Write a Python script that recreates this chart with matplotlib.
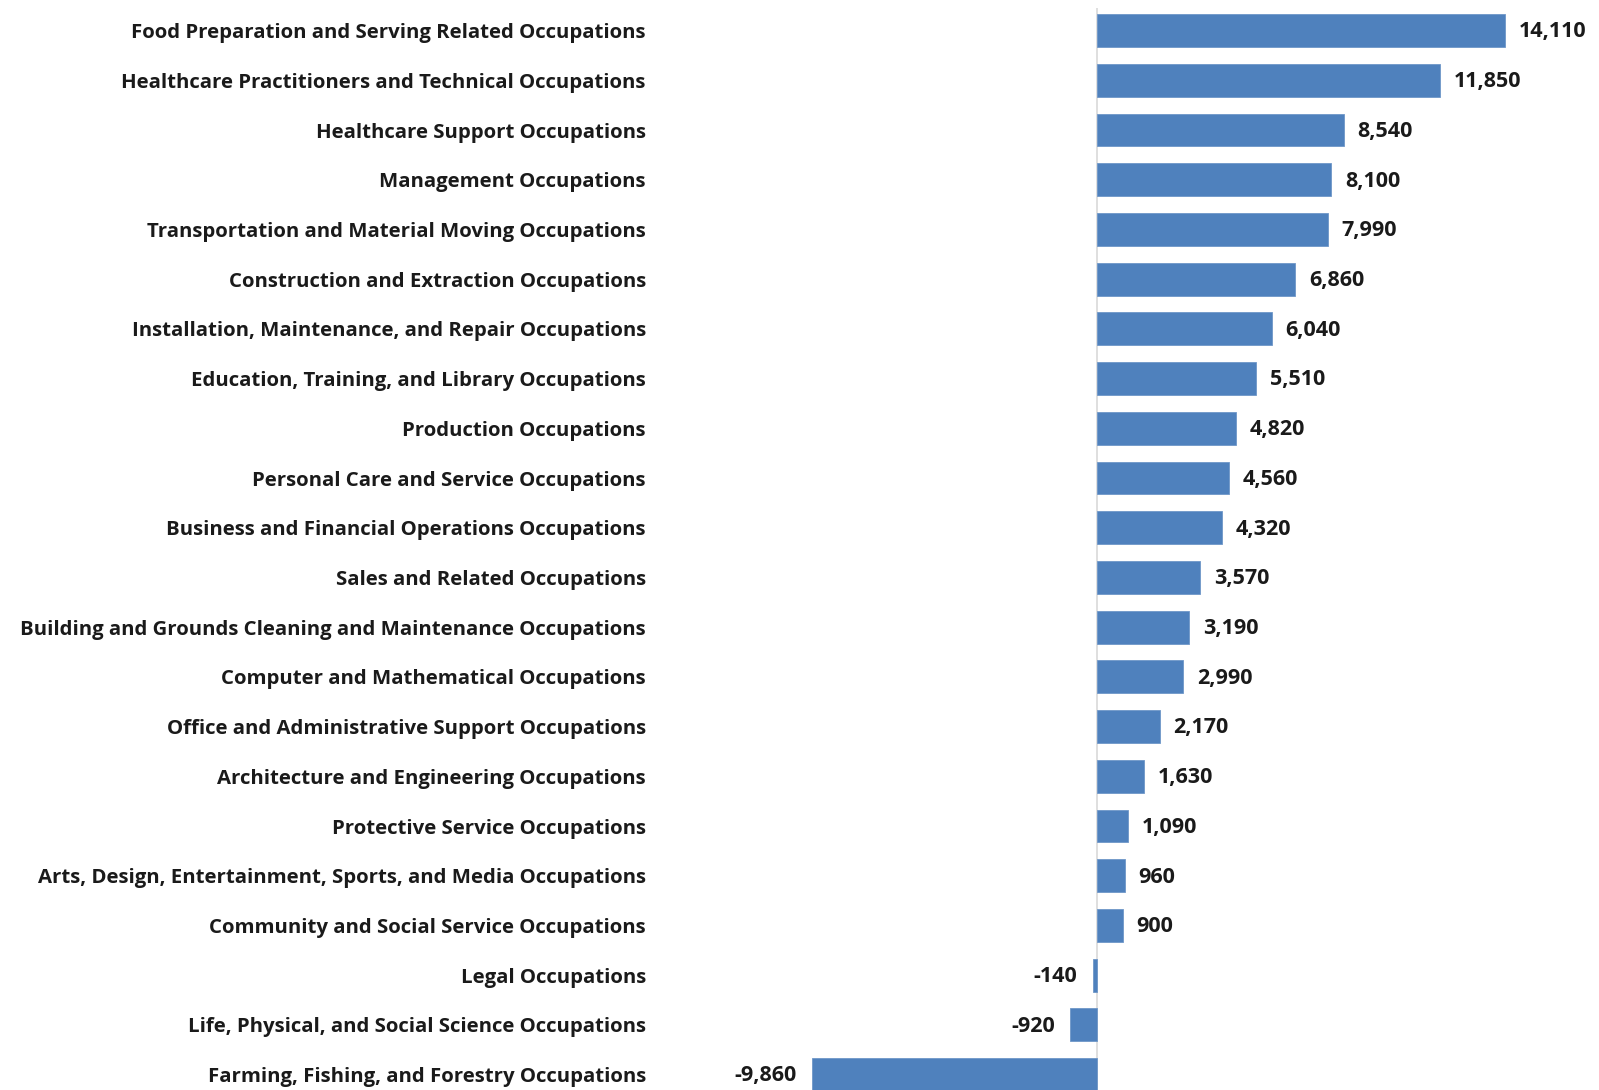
import matplotlib.pyplot as plt

# Occupations (top to bottom as in the chart)
occupations = [
    "Food Preparation and Serving Related Occupations",
    "Healthcare Practitioners and Technical Occupations",
    "Healthcare Support Occupations",
    "Management Occupations",
    "Transportation and Material Moving Occupations",
    "Construction and Extraction Occupations",
    "Installation, Maintenance, and Repair Occupations",
    "Education, Training, and Library Occupations",
    "Production Occupations",
    "Personal Care and Service Occupations",
    "Business and Financial Operations Occupations",
    "Sales and Related Occupations",
    "Building and Grounds Cleaning and Maintenance Occupations",
    "Computer and Mathematical Occupations",
    "Office and Administrative Support Occupations",
    "Architecture and Engineering Occupations",
    "Protective Service Occupations",
    "Arts, Design, Entertainment, Sports, and Media Occupations",
    "Community and Social Service Occupations",
    "Legal Occupations",
    "Life, Physical, and Social Science Occupations",
    "Farming, Fishing, and Forestry Occupations",
]
change = [14110, 11850, 8540, 8100, 7990, 6860, 6040, 5510, 4820, 4560,
          4320, 3570, 3190, 2990, 2170, 1630, 1090, 960, 900, -140, -920, -9860]

plt.rcParams['font.family'] = ['Open Sans', 'DejaVu Sans']
txt_color = '#1a1a1a'

fig = plt.figure(figsize=(15.99, 10.90), dpi=100)
ax = fig.add_axes([0.41, 0.0, 0.59, 0.9927])

pos = list(range(len(occupations)))
ax.barh(pos, change, height=0.66, color='#4F81BD', edgecolor='#6f97c8', linewidth=0.6, zorder=2)
ax.axvline(0, color='#d9d9d9', linewidth=1.2, zorder=1)

for y, v in zip(pos, change):
    if v >= 0:
        ax.annotate(f"{v:,}", (v, y), xytext=(10, -1), textcoords='offset points',
                    ha='left', va='center', fontsize=15.5, fontweight='bold', color=txt_color)
    else:
        ax.annotate(f"{v:,}", (v, y), xytext=(-11, -1), textcoords='offset points',
                    ha='right', va='center', fontsize=15.5, fontweight='bold', color=txt_color)

ax.set_yticks(pos)
ax.set_yticklabels(occupations, fontsize=14.7, fontweight='bold', color=txt_color)
ax.tick_params(axis='y', length=0, pad=7)
ax.set_xticks([])
ax.set_xlim(-15250, 17360)
ax.set_ylim(21.31, -0.455)
for s in ax.spines.values():
    s.set_visible(False)

fig.savefig("out.png", dpi=100)
